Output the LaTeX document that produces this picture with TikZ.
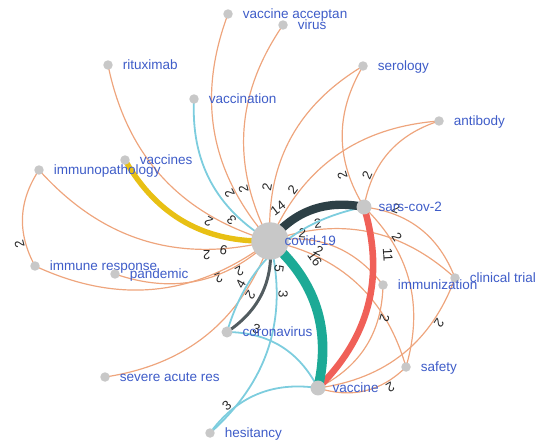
\documentclass[tikz,border=0pt]{standalone}
\usepackage{fontspec}
\setmainfont{Liberation Sans}
\usepackage{tikz}
\usetikzlibrary{backgrounds}

\definecolor{edgeorange}{RGB}{238,165,125}
\definecolor{edgeblue}{RGB}{125,205,222}
\definecolor{edgeyellow}{RGB}{232,192,20}
\definecolor{edgeteal}{RGB}{28,170,150}
\definecolor{edgered}{RGB}{240,96,88}
\definecolor{edgedark}{RGB}{45,64,70}
\definecolor{edgegrey}{RGB}{82,92,96}
\definecolor{dotgrey}{RGB}{200,200,200}
\definecolor{termblue}{RGB}{62,92,200}

\begin{document}
\begin{tikzpicture}[
  x=0.02cm, y=-0.02cm,
  font=\fontsize{7.7}{9}\selectfont,
  dot/.style={circle, fill=dotgrey, inner sep=0pt},
  tlabel/.style={text=termblue, inner sep=0pt, text height=0.7em, text depth=0.2em},
  term/.style={dot, minimum size=5.4pt,
               label={[tlabel, label distance=5.3pt]right:#1}},
  bigterm/.style={dot, minimum size=8.5pt,
                  label={[tlabel, label distance=3.7pt]right:#1}},
  hub/.style={dot, minimum size=21.3pt,
              label={[tlabel, label distance=-2.7pt]right:#1}},
  cooc/.style={draw=edgeorange, line width=0.68pt, bend left=31},
  bluecooc/.style={cooc, draw=edgeblue, line width=1.02pt},
  elabel/.style={sloped, allow upside down, above, pos=0.24, inner sep=0.5pt,
                 text=black!85, font=\fontsize{7.5}{9}\selectfont}
]
\useasboundingbox (0,0) rectangle (536,442);

\node[hub=covid-19] (covid) at (270,241) {};
\node[term=vaccine acceptan] (vacacc) at (228,14) {};
\node[term=virus] (virus) at (283,25) {};
\node[term=rituximab] (ritux) at (108,65) {};
\node[term=serology] (serology) at (363,66) {};
\node[term=vaccination] (vaccination) at (194,99) {};
\node[term=antibody] (antibody) at (439,121) {};
\node[term=vaccines] (vaccines) at (125,160) {};
\node[term=immunopathology] (immpath) at (39,170) {};
\node[bigterm=sars-cov-2] (sars) at (364,207) {};
\node[term=immune response] (immresp) at (35,266) {};
\node[term=pandemic] (pandemic) at (115,274) {};
\node[term=clinical trial] (trial) at (455,278) {};
\node[term=immunization] (immun) at (383,285) {};
\node[term=coronavirus, minimum size=6.3pt] (corona) at (227,332) {};
\node[term=safety] (safety) at (406,367) {};
\node[term=severe acute res] (severe) at (105,377) {};
\node[bigterm=vaccine] (vaccine) at (318,388) {};
\node[term=hesitancy] (hesitancy) at (210,433) {};

\begin{scope}[on background layer]
\draw[cooc] (covid.center) to node[elabel] {2} (vacacc.center);
\draw[cooc] (covid.center) to node[elabel] {2} (virus.center);
\draw[cooc] (covid.center) to node[elabel] {2} (ritux.center);
\draw[cooc] (covid.center) to node[elabel] {2} (serology.center);
\draw[cooc] (covid.center) to node[elabel] {2} (antibody.center);
\draw[cooc] (covid.center) to node[elabel] {2} (immpath.center);
\draw[cooc] (covid.center) to node[elabel] {2} (immresp.center);
\draw[cooc] (covid.center) to node[elabel] {2} (pandemic.center);
\draw[cooc] (covid.center) to node[elabel] {2} (severe.center);
\draw[cooc] (covid.center) to node[elabel] {2} (trial.center);
\draw[cooc] (covid.center) to node[elabel] {2} (immun.center);
\draw[cooc] (covid.center) to node[elabel] {2} (safety.center);
\draw[cooc] (sars.center) to node[elabel] {2} (serology.center);
\draw[cooc] (sars.center) to node[elabel] {2} (antibody.center);
\draw[cooc] (sars.center) to node[elabel] {2} (trial.center);
\draw[cooc] (sars.center) to node[elabel] {2} (safety.center);
\draw[cooc] (immresp.center) to node[elabel] {2} (immpath.center);
\draw[cooc] (immun.center) to node[elabel] {2} (vaccine.center);
\draw[cooc] (trial.center) to node[elabel] {2} (vaccine.center);
\draw[cooc] (safety.center) to node[elabel] {2} (vaccine.center);

\draw[bluecooc] (covid.center) to node[elabel] {3} (vaccination.center);
\draw[bluecooc] (covid.center) to node[elabel] {3} (hesitancy.center);
\draw[bluecooc] (corona.center) to node[elabel] {4} (sars.center);
\draw[bluecooc] (corona.center) to node[elabel] {3} (vaccine.center);
\draw[bluecooc] (hesitancy.center) to node[elabel] {3} (vaccine.center);

\draw[cooc, draw=edgegrey, line width=1.7pt] (covid.center) to node[elabel, above=1.4pt] {5} (corona.center);
\draw[cooc, draw=edgeyellow, line width=3.07pt] (covid.center) to node[elabel, above=2.5pt] {9} (vaccines.center);
\draw[cooc, draw=edgered, line width=3.75pt] (sars.center) to node[elabel, above=3.6pt] {11} (vaccine.center);
\draw[cooc, draw=edgedark, line width=4.78pt] (covid.center) to node[elabel, above=4.7pt] {14} (sars.center);
\draw[cooc, draw=edgeteal, line width=5.46pt] (covid.center) to node[elabel, above=6pt] {16} (vaccine.center);
\end{scope}

\end{tikzpicture}
\end{document}
